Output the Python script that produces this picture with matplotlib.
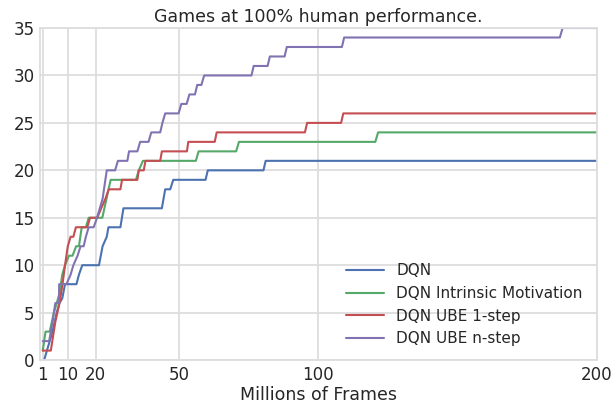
import matplotlib
matplotlib.use("Agg")
import matplotlib.pyplot as plt
import seaborn as sns

sns.set_style("whitegrid")
plt.rcParams['font.family'] = ['DejaVu Sans']

labels = ["DQN", "DQN Intrinsic Motivation", "DQN UBE 1-step", "DQN UBE n-step"]
colors = ["#4C72B0", "#55A868", "#C44E52", "#8172B2"]

# frames (millions) where counts change, and game counts
dqn_x = [1.5, 3, 4.5, 6, 7, 8, 9, 13.1, 14, 15.2, 21.2, 22.5, 24, 24.6, 28.9, 30, 43.8, 45, 46.8,
         47.9, 59.5, 60.3, 80.3, 81.1, 200]
dqn_y = [0, 1.5, 3, 5, 6, 6.5, 8, 8, 9, 10, 10, 12, 13, 14, 14, 16, 16, 18, 18,
         19, 19, 20, 20, 21, 21]

im_x = [1, 2, 3.5, 5, 6, 7, 8, 9, 10.4, 11.7, 13, 14, 15, 16.5, 17.5, 22.4, 25.4, 34.5, 35.5,
        37, 56, 57, 70.5, 71.5, 120.5, 121.5, 200]
im_y = [1, 3, 3, 5, 6, 7, 9, 10, 11, 11, 12, 12, 14, 14, 15, 15, 19, 19, 20,
        21, 21, 22, 22, 23, 23, 24, 24]

ube1_x = [1, 3.9, 5.5, 7, 8.1, 9, 10, 11, 12, 12.9, 17, 18, 20.6, 22, 23.5, 24.7, 28.9, 29.5,
          35, 35.5, 37.3, 37.9, 43.2, 43.8, 52.8, 53.3, 62.8, 63.5, 95.2, 96, 108.2, 109, 200]
ube1_y = [1, 1, 4, 6, 8, 10, 12, 13, 13, 14, 14, 15, 15, 16, 17, 18, 18, 19,
          19, 20, 20, 21, 21, 22, 22, 23, 23, 24, 24, 25, 25, 26, 26]

uben_x = [1, 3.3, 4.5, 5.5, 6.8, 6.9, 9.5, 11, 12, 13.5, 14.6, 15.7, 16.5, 17.5, 19.3, 20.5, 21.5,
          22.5, 23, 24, 27, 28, 31.4, 32, 35, 36, 39, 40, 43.2, 44, 45, 49.8, 50.8, 52.7,
          53.7, 55.7, 56.5, 58, 59, 76, 76.8, 81.8, 82.6, 87.9, 88.7, 108.5, 109.3, 186.8,
          187.8, 200]
uben_y = [2, 2, 4, 6, 6, 8, 8, 9, 10, 11, 12, 12, 13, 14, 14, 15, 16,
          17, 18, 20, 20, 21, 21, 22, 22, 23, 23, 24, 24, 25, 26, 26, 27, 27,
          28, 28, 29, 29, 30, 30, 31, 31, 32, 32, 33, 33, 34, 34,
          35, 35]

fig = plt.figure(figsize=(6.15, 4.12), dpi=100)
ax = fig.add_axes([0.065, 0.126, 0.905, 0.806])

series = [(dqn_x, dqn_y), (im_x, im_y), (ube1_x, ube1_y), (uben_x, uben_y)]
for (xs, ys), lab, col in zip(series, labels, colors):
    ax.plot(xs, ys, color=col, lw=1.5, label=lab)

ax.set_xlim(0, 200)
ax.set_ylim(0, 35)
ax.set_xticks([1, 10, 20, 50, 100, 200])
ax.set_yticks(range(0, 36, 5))
ax.grid(color="#dddddd", lw=1.3)
for s in ax.spines.values():
    s.set_color("#dddddd")
    s.set_linewidth(1.3)
ax.tick_params(labelsize=12, length=0, pad=4, colors="#262626")
ax.set_xlabel("Millions of Frames", fontsize=12.5, labelpad=2, color="#262626")
ax.set_title("Games at 100% human performance.", fontsize=12.5, pad=4, color="#262626")
ax.legend(loc="lower right", frameon=False, fontsize=11, bbox_to_anchor=(1.0, 0.0),
          handlelength=2.5, labelspacing=0.5)

fig.savefig("out.png", dpi=100)
